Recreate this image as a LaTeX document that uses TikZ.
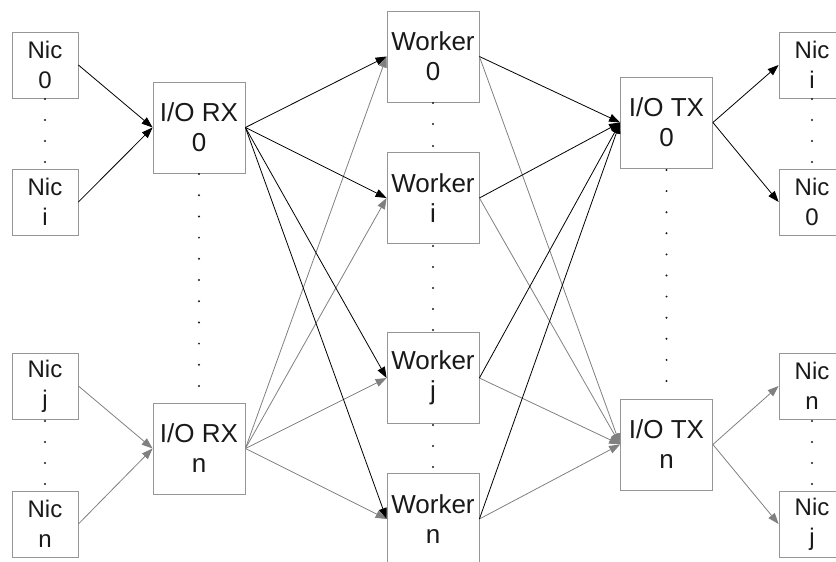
\documentclass[tikz,border=0pt]{standalone}
\usepackage{fontspec}
\setmainfont{Liberation Sans}
\usetikzlibrary{arrows.meta}

\definecolor{boxgray}{RGB}{150,150,150}
\definecolor{linkgray}{RGB}{128,128,128}
\definecolor{txt}{RGB}{25,25,25}

\begin{document}
\begin{tikzpicture}[x=1pt, y=-1pt,
    nic/.style={draw=boxgray, line width=0.8pt, minimum width=66pt, minimum height=66pt,
        inner sep=0pt, align=center, text=txt, font=\fontsize{24}{30}\selectfont},
    unit/.style={nic, minimum width=92pt, minimum height=91pt, font=\fontsize{26}{30}\selectfont},
    blk/.style={-{Triangle[length=11pt,width=8pt]}, line width=0.8pt, black},
    gry/.style={blk, linkgray}]
        \useasboundingbox (0, 0) rectangle (836, 562);
        \clip (0, 0) rectangle (836, 562);

        % receiving nics
        \node[nic] (n0) at (45, 65) {Nic\\0};
        \node[nic] (ni) at (45, 202) {Nic\\i};
        \node[nic] (nj) at (45, 386) {Nic\\j};
        \node[nic] (nn) at (45, 524) {Nic\\n};

        \node[unit] (rx0) at (199, 127.5) {I/O RX\\0};
        \node[unit] (rxn) at (199, 448.5) {I/O RX\\n};

        \node[unit] (w0) at (433, 56.5) {Worker\\0};
        \node[unit] (wi) at (433, 198) {Worker\\i};
        \node[unit] (wj) at (433, 378) {Worker\\j};
        \node[unit] (wn) at (433, 519) {Worker\\n};

        \node[unit] (tx0) at (666.5, 122.5) {I/O TX\\0};
        \node[unit] (txn) at (666.5, 444.5) {I/O TX\\n};

        % sending nics
        \node[nic] (oi) at (812, 65) {Nic\\i};
        \node[nic] (o0) at (812, 202) {Nic\\0};
        \node[nic] (on) at (812, 386) {Nic\\n};
        \node[nic] (oj) at (812, 524) {Nic\\j};

        % elided entries
        \foreach \y in {99, 120, 141, 162, 421, 442, 463, 484} {
            \fill[txt] (45, \y) circle (1.1pt);
            \fill[txt] (812, \y) circle (1.1pt);
        }
        \foreach \k in {0, ..., 10} {
            \fill[txt] (199, 174 + 21.2*\k) circle (1.1pt);
            \fill[txt] (666.5, 170 + 21.1*\k) circle (1.1pt);
        }
        \foreach \y in {103, 124, 146, 246, 267, 288, 309, 330, 425, 446, 467}
            \fill[txt] (433, \y) circle (1.1pt);

        % rx side
        \draw[blk] (n0.east) to (rx0.west);
        \draw[blk] (ni.east) to (rx0.west);
        \draw[gry] (nj.east) to (rxn.west);
        \draw[gry] (nn.east) to (rxn.west);

        \foreach \w in {w0, wi, wj, wn} {
            \draw[gry] (rxn.east) to (\w.west);
            \draw[blk] (rx0.east) to (\w.west);
        }

        % tx side
        \foreach \w in {w0, wi, wj, wn} {
            \draw[gry] (\w.east) to (txn.west);
            \draw[blk] (\w.east) to (tx0.west);
        }

        \draw[blk] (tx0.east) to (oi.west);
        \draw[blk] (tx0.east) to (o0.west);
        \draw[gry] (txn.east) to (on.west);
        \draw[gry] (txn.east) to (oj.west);
      \end{tikzpicture}
\end{document}
